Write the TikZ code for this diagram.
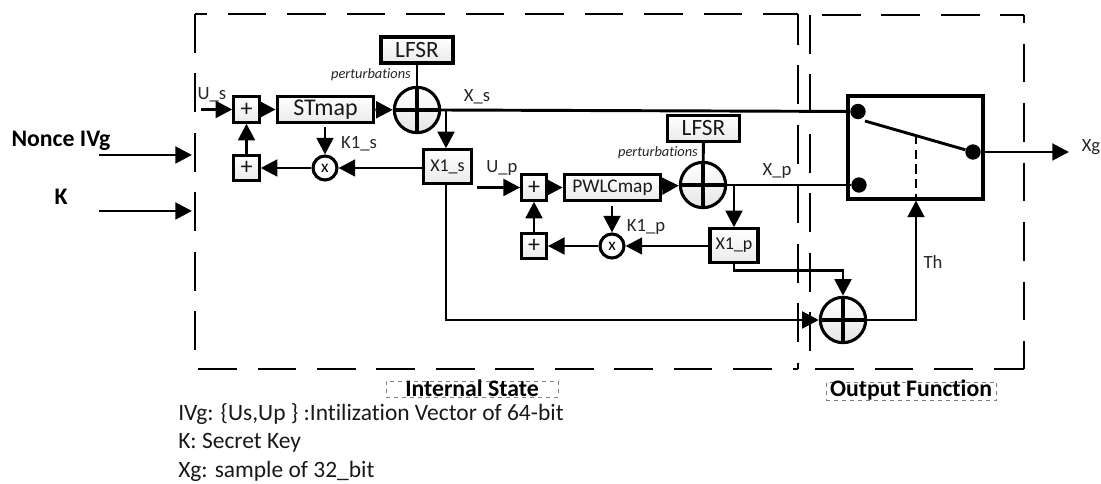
\documentclass[tikz,border=0pt]{standalone}
\usepackage{fontspec}
\setmainfont[Ligatures=NoCommon]{Carlito}
\usetikzlibrary{arrows.meta,calc}
\tikzset{
  wire/.style={line width=2.2pt,line cap=butt},
  arr/.style={wire,-{Triangle[length=12.5pt,width=12.5pt]}},
  block/.style={draw,line width=2.3pt,inner sep=0pt,top color=white,bottom color=black!8,text=black!90},
  xorn/.style={draw,circle,line width=2.3pt,inner sep=0pt,minimum size=34pt,top color=white,bottom color=black!10},
  mult/.style={draw,circle,line width=2.3pt,inner sep=0pt,minimum size=18pt,fill=white,font=\fontsize{13}{13}\selectfont},
  dotn/.style={circle,fill=black,inner sep=0pt,minimum size=11.5pt},
  region/.style={line width=2.2pt,dash pattern=on 29pt off 15.6pt},
  tag/.style={inner sep=0pt,text=black!85,font=\fontsize{14}{16}\selectfont},
  pert/.style={inner sep=0pt,text=black!85,font=\fontsize{10.8}{12}\selectfont\itshape},
  head/.style={inner sep=0pt,font=\fontsize{17.8}{20}\selectfont\bfseries},
  legend/.style={inner sep=0pt,anchor=base west,text=black!90,font=\fontsize{17.6}{20}\selectfont},
  titlebox/.style={draw=black!50,dashed,line width=0.6pt},
}
\begin{document}
\begin{tikzpicture}[x=0.75pt,y=-0.75pt]
\useasboundingbox (0,0) rectangle (1101,484);
% region frames
\coordinate (ia) at (195,14); \coordinate (ib) at (798,14);
\coordinate (ic) at (798,369); \coordinate (id) at (195,369);
\coordinate (oa) at (810,15); \coordinate (ob) at (1024,15);
\coordinate (oc) at (1024,369); \coordinate (od) at (810,369);
\draw[region,dash phase=20pt] (ia) -- (ib);
\draw[region] (ia) -- (id);
\draw[region,dash phase=6pt] (ib) -- (ic);
\draw[region,dash phase=-2.3pt] (id) -- (ic);
\draw[region,dash phase=-9pt] (oa) -- (ob);
\draw[region] (oa) -- (od);
\draw[region,dash phase=23pt] (ob) -- (oc);
\draw[region,dash phase=-4pt] (od) -- (oc);
% first chain
\node[block,minimum width=54pt,minimum height=19.5pt,font=\fontsize{17.5}{17}\selectfont] (lfsr1) at (417,50) {LFSR};
\node[xorn] (xor1) at (417,110) {};
\draw[line width=2.3pt] (xor1.north) -- (xor1.south) (xor1.west) -- (xor1.east);
\node[block,minimum width=72.5pt,minimum height=19pt,font=\fontsize{18}{18}\selectfont] (st) at (325.5,109.5) {STmap};
\node[block,minimum width=19pt,minimum height=19pt,font=\fontsize{18}{18}\selectfont] (add1) at (246.5,109.5) {+};
\node[block,minimum width=19pt,minimum height=19pt,font=\fontsize{18}{18}\selectfont] (add2) at (246.5,168) {+};
\node[mult] (m1) at (325,168) {x};
\node[block,minimum width=36.5pt,minimum height=25pt,font=\fontsize{13.5}{14}\selectfont] (x1s) at (447.5,166.5) {X1\_s};
\coordinate (us) at (201,109.5);
\coordinate (k1s) at (325,127);
\coordinate (xst) at (446,110);
\coordinate (xsb) at ($(x1s.north)+(-1.5,0)$);
\draw[wire] (lfsr1) -- (xor1);
\draw[arr] (us) -- (add1);
\draw[arr] (add1) -- (st);
\draw[arr] (st) -- (xor1);
\draw[arr] (add2) -- (add1);
\draw[arr] (m1) -- (add2);
\draw[arr] (x1s.west |- m1) -- (m1);
\draw[arr] (k1s) -- (m1);
\draw[arr] (xst) -- (xsb);
% second chain
\node[block,minimum width=54pt,minimum height=19pt,font=\fontsize{17.5}{17}\selectfont] (lfsr2) at (703.5,128.5) {LFSR};
\node[xorn] (xor2) at (703,185) {};
\draw[line width=2.3pt] (xor2.north) -- (xor2.south) (xor2.west) -- (xor2.east);
\node[block,minimum width=72.5pt,minimum height=19pt,font=\fontsize{14.5}{15}\selectfont] (pw) at (612.5,187.5) {PWLCmap};
\node[block,minimum width=18.5pt,minimum height=19pt,font=\fontsize{18}{18}\selectfont] (add3) at (534,187.5) {+};
\node[block,minimum width=18.5pt,minimum height=19pt,font=\fontsize{18}{18}\selectfont] (add4) at (534,246) {+};
\node[mult] (m2) at (612,246) {x};
\node[block,minimum width=36pt,minimum height=25pt,font=\fontsize{13.5}{14}\selectfont] (x1p) at (734,245.5) {X1\_p};
\coordinate (up) at (477,187.5);
\coordinate (k1p) at (612,206);
\coordinate (xpt) at (734,185);
\draw[wire] (lfsr2) -- (xor2);
\draw[arr] (up) -- (add3);
\draw[arr] (add3) -- (pw);
\draw[arr] (pw) -- (xor2);
\draw[arr] (add4) -- (add3);
\draw[arr] (m2) -- (add4);
\draw[arr] (x1p.west |- m2) -- (m2);
\draw[arr] (k1p) -- (m2);
\draw[arr] (xpt) -- (x1p);
% output function
\node[draw,line width=2.3pt,minimum width=101.25pt,minimum height=77.25pt,inner sep=0pt] (sw) at (915.5,147.5) {};
\node[dotn] (d1) at (858,111.5) {};
\node[dotn] (d2) at (859,185) {};
\node[dotn] (d3) at (973,152) {};
\coordinate (swl) at (865,121);
\coordinate (swm) at (916,135);
\coordinate (swb) at (916,198);
\draw[wire] (swl) -- (d3);
\draw[wire,dash pattern=on 7pt off 4pt] (swm) -- (swb);
\draw[wire] (xor1.east) -- (d1);
\draw[wire] (xor2.east) -- (d2);
\node[xorn] (xor3) at (843,320) {};
\draw[line width=2.3pt] (xor3.north) -- (xor3.south) (xor3.west) -- (xor3.east);
\coordinate (xg) at (1069,152);
\draw[arr] (sw.east |- d3) -- (xg);
\draw[arr] (x1s.south -| xsb) |- (xor3.west);
\draw[arr] (x1p.south) |- ($(xor3.north)+(0,-25)$) -- (xor3.north);
\draw[arr] (xor3.east) -| (sw.south -| swb);
% inputs
\coordinate (in1a) at (99,155); \coordinate (in1b) at (192,155);
\coordinate (in2a) at (99,211); \coordinate (in2b) at (192,211);
\draw[arr] (in1a) -- (in1b);
\draw[arr] (in2a) -- (in2b);
% labels
\node[head] (nonce) at (61,141) {Nonce IVg};
\node[head] (kl) at (61,197) {K};
\node[tag] (lus) at (212,95) {U\_s};
\node[tag] (lxs) at (477,97) {X\_s};
\node[tag] (lk1s) at (359,144) {K1\_s};
\node[tag] (lup) at (502,168) {U\_p};
\node[tag] (lxp) at (777,171) {X\_p};
\node[tag] (lk1p) at (646,227) {K1\_p};
\node[tag] (lth) at (933,262) {Th};
\node[tag] (lxg) at (1091,147) {Xg};
\node[pert] (p1) at (371,75) {perturbations};
\node[pert] (p2) at (658,153) {perturbations};
\node[titlebox,minimum width=129pt,minimum height=12pt,inner sep=0pt] (tb1) at (472,389) {};
\node[titlebox,minimum width=128pt,minimum height=13.5pt,inner sep=0pt] (tb2) at (911.5,391) {};
\node[head] (t1) at (472,388.5) {Internal State};
\node[head] (t2) at (911,390.5) {Output Function};
\node[legend] (l1) at (178,421) {IVg: \{Us,Up \} :Intilization Vector of 64-bit};
\node[legend] (l2) at (178,449) {K: Secret Key};
\node[legend] (l3) at (178,478) {Xg: sample of 32\_bit};
\end{tikzpicture}
\end{document}
